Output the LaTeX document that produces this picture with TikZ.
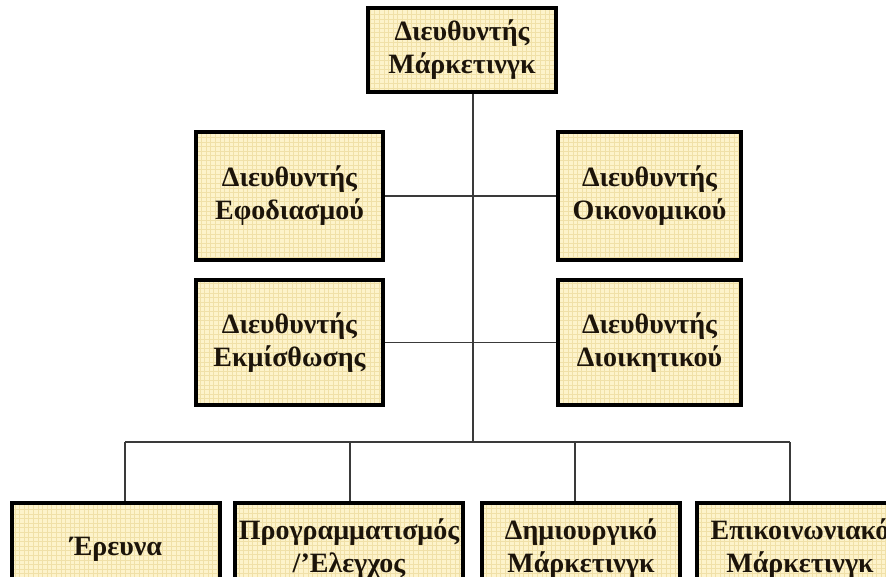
\documentclass[tikz,border=0pt]{standalone}
\usepackage{fontspec}
\setmainfont{Liberation Serif}
\begin{document}
\begin{tikzpicture}[x=1pt,y=1pt,
  orgbox/.style={draw=black, line width=3.6pt, fill=boxfill,
    inner sep=0pt, align=center, text=textdark,
    font=\fontsize{28}{33}\selectfont\bfseries,
    path picture={\draw[gridline]
      (path picture bounding box.south west) grid[step=4.6pt]
      (path picture bounding box.north east);}},
  gridline/.style={draw=boxgrid, line width=0.35pt},
  link/.style={draw=linkgray, line width=1.4pt}]
\definecolor{boxfill}{HTML}{FDF3CB}
\definecolor{boxgrid}{HTML}{F0E0A8}
\definecolor{textdark}{HTML}{1C140A}
\definecolor{linkgray}{HTML}{3A3A3A}
\useasboundingbox (0,0) rectangle (886,-577);
\clip (0,0) rectangle (886,-577);

% head of the department
\node[orgbox, minimum width=188pt, minimum height=84pt] (head) at (462,-50)
  {Διευθυντής\\Μάρκετινγκ};

% staff directors
\node[orgbox, minimum width=187pt, minimum height=128pt] (supply) at (289.5,-196)
  {Διευθυντής\\Εφοδιασμού};
\node[orgbox, minimum width=183pt, minimum height=128pt] (finance) at (649.5,-196)
  {Διευθυντής\\Οικονομικού};
\node[orgbox, minimum width=187pt, minimum height=125pt] (hire) at (289.5,-342.5)
  {Διευθυντής\\Εκμίσθωσης};
\node[orgbox, minimum width=183pt, minimum height=125pt] (admin) at (649.5,-342.5)
  {Διευθυντής\\Διοικητικού};

% line units
\node[orgbox, minimum width=208pt, minimum height=92pt] (research) at (116,-549)
  {Έρευνα};
\node[orgbox, minimum width=228pt, minimum height=92pt] (plan) at (349,-549)
  {Προγραμματισμός\\/’Ελεγχος};
\node[orgbox, minimum width=198pt, minimum height=92pt] (creative) at (581,-549)
  {Δημιουργικό\\Μάρκετινγκ};
\node[orgbox, minimum width=206pt, minimum height=92pt] (comms) at (800,-549)
  {Επικοινωνιακό\\Μάρκετινγκ};

% trunk and bus
\coordinate (trunk) at (473,-442);
\coordinate (drop1) at (125,-442);
\coordinate (drop2) at (350,-442);
\coordinate (drop3) at (575,-442);
\coordinate (drop4) at (790,-442);

\draw[link] (head.south -| trunk) -- (trunk);
\draw[link] (supply.east) -- (finance.west);
\draw[link] (hire.east) -- (admin.west);
\draw[link] (drop1) -- (drop4);
\draw[link] (drop1) -- (drop1 |- research.north);
\draw[link] (drop2) -- (drop2 |- plan.north);
\draw[link] (drop3) -- (drop3 |- creative.north);
\draw[link] (drop4) -- (drop4 |- comms.north);
\end{tikzpicture}
\end{document}
